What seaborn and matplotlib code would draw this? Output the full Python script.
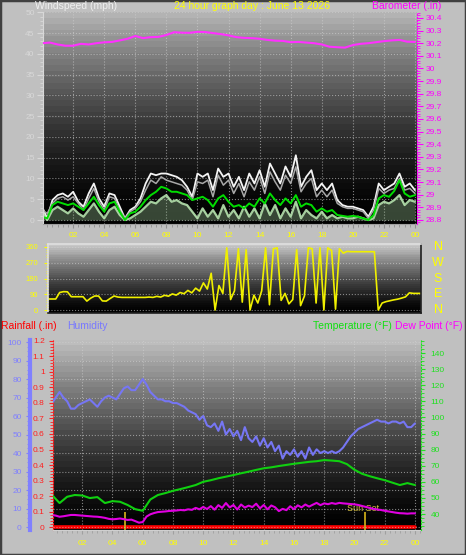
import numpy as np
import matplotlib
matplotlib.use('Agg')
import matplotlib.pyplot as plt
import matplotlib.transforms as mtransforms
import seaborn as sns
from matplotlib.ticker import MultipleLocator, FixedLocator, FuncFormatter
from matplotlib.patches import Rectangle

sns.set_style('white')
plt.rcParams['font.family'] = ['Liberation Sans', 'DejaVu Sans']

# ---- data ----
# wind speeds (mph), one value every 20 minutes, 00:00 .. 24:00
wind_gust = [3.2, 0.4, 4.8, 6.0, 6.4, 5.6,
             6.8, 4.4, 3.2, 6.4, 8.8, 5.2,
             3.2, 6.4, 6.0, 3.2, 0.4, 2.4,
             3.2, 5.2, 8.8, 11.2, 10.8, 11.2,
             11.2, 10.8, 10.4, 9.6, 8.0, 5.6,
             11.2, 10.4, 11.2, 7.2, 12.4, 10.4,
             11.2, 8.0, 10.4, 7.2, 11.2, 8.8,
             12.0, 8.0, 13.6, 11.2, 8.8, 12.9,
             10.4, 15.6, 8.0, 10.4, 12.0, 7.2,
             8.8, 7.2, 8.8, 4.8, 3.6, 3.2,
             3.2, 2.8, 2.4, 0.8, 3.2, 8.8,
             7.2, 8.0, 8.8, 11.2, 8.0, 8.8,
             7.2]
wind_high = [2.4, 1.6, 4.0, 5.2, 5.6, 4.8,
             5.6, 4.0, 2.4, 5.2, 7.6, 4.4,
             2.4, 5.6, 5.2, 2.4, 0.4, 2.0,
             2.8, 4.4, 7.2, 9.6, 8.8, 10.4,
             9.6, 9.2, 8.8, 8.4, 7.2, 4.8,
             9.2, 8.8, 9.6, 5.6, 10.8, 8.4,
             9.6, 6.4, 8.8, 5.6, 9.2, 7.2,
             10.4, 6.4, 11.6, 9.2, 7.2, 10.8,
             8.8, 12.8, 6.8, 8.8, 10.0, 5.6,
             7.2, 5.6, 7.2, 4.0, 3.2, 2.8,
             2.8, 2.4, 2.0, 0.4, 2.4, 7.6,
             6.4, 7.2, 7.6, 10.0, 7.2, 7.6,
             6.4]
wind_avg = [0.8, 0.4, 3.6, 4.4, 4.0, 3.6,
            4.0, 3.2, 2.4, 4.0, 5.6, 3.6,
            2.0, 4.0, 4.4, 2.0, 0.0, 1.6,
            2.0, 3.2, 4.8, 6.0, 6.8, 8.0,
            7.6, 6.8, 6.8, 6.4, 6.0, 4.8,
            5.2, 5.6, 4.8, 3.2, 5.2, 6.0,
            4.4, 3.2, 3.6, 2.8, 4.0, 3.2,
            5.2, 4.0, 6.4, 4.8, 3.6, 5.2,
            4.0, 6.0, 3.2, 4.0, 3.6, 2.0,
            2.8, 2.0, 2.4, 1.2, 1.0, 0.8,
            1.0, 0.8, 0.4, 0.0, 1.2, 5.2,
            6.0, 5.6, 7.0, 9.6, 6.4, 5.6,
            6.0]
wind_low = [2.0, 0.0, 2.4, 3.2, 2.4, 1.6,
            2.8, 1.6, 0.8, 2.4, 4.0, 2.0,
            0.4, 2.4, 3.2, 1.2, 0.0, 0.4,
            1.2, 2.0, 3.2, 4.4, 4.0, 5.2,
            6.0, 4.4, 4.8, 4.0, 3.6, 2.0,
            0.4, 2.8, 0.8, 2.4, 0.4, 3.6,
            0.8, 2.4, 0.4, 3.2, 0.8, 2.8,
            0.4, 4.0, 1.2, 3.6, 0.4, 2.8,
            0.8, 4.4, 0.4, 2.4, 1.2, 0.4,
            2.0, 0.4, 1.2, 0.4, 0.8, 0.4,
            0.4, 0.8, 0.4, 0.0, 0.4, 3.6,
            4.4, 4.0, 4.8, 6.0, 3.6, 4.8,
            4.4]

# barometer (in), every 30 minutes
barometer = [30.200, 30.205, 30.190, 30.180, 30.180, 30.195, 30.190, 30.200,
             30.207, 30.210, 30.222, 30.235, 30.257, 30.240, 30.248, 30.250,
             30.265, 30.287, 30.283, 30.282, 30.290, 30.288, 30.280, 30.272,
             30.262, 30.248, 30.242, 30.240, 30.235, 30.226, 30.220, 30.218,
             30.208, 30.210, 30.205, 30.200, 30.190, 30.172, 30.168, 30.165,
             30.185, 30.195, 30.200, 30.208, 30.216, 30.222, 30.226, 30.212,
             30.210]

# wind direction (deg), every 15 minutes
wind_dir = [63, 63, 63, 100, 105, 104, 76, 76,
            76, 76, 51, 68, 80, 80, 52, 51,
            66, 80, 74, 72, 72, 72, 72, 72,
            72, 72, 74, 72, 78, 74, 84, 79,
            92, 85, 100, 93, 112, 98, 125, 108,
            155, 120, 210, 0, 140, 95, 355, 60,
            110, 350, 45, 345, 0, 85, 40, 110,
            355, 30, 350, 355, 55, 95, 35, 60,
            345, 25, 80, 355, 350, 40, 355, 0,
            355, 340, 5, 350, 325, 335, 333, 333,
            333, 333, 333, 333, 333, 0, 40, 48,
            53, 58, 62, 68, 75, 98, 95, 95,
            95]
dir_labels = ['N', 'W', 'S', 'E', 'N']
dir_values = [360, 270, 180, 90, 0]

# humidity (%) and dew point (F), every 15 minutes
humidity = [67, 70, 73, 70, 68, 64, 64, 66,
            67, 68, 69, 67, 65, 68, 70, 71,
            70, 69, 72, 75, 76, 74, 74, 77,
            80, 77, 73, 71, 69, 69, 68, 68,
            67, 67, 66, 65, 63, 62, 61, 58,
            60, 55, 54, 56, 52, 57, 50, 53,
            49, 52, 47, 54, 48, 46, 49, 44,
            48, 43, 46, 41, 44, 37, 41, 39,
            42, 38, 41, 37, 43, 39, 42, 40,
            41, 40, 41, 40, 41, 43, 46, 49,
            51, 53, 54, 55, 56, 57, 58, 57,
            57, 56, 57, 57, 56, 57, 54, 54,
            56]
dew_point = [39.4, 39.0, 38.3, 38.6, 39.0, 39.4, 39.4, 39.2,
             39.0, 38.8, 38.6, 38.4, 38.3, 38.0, 37.6, 37.0,
             36.7, 36.9, 37.2, 36.8, 36.3, 36.5, 35.6, 34.6,
             35.0, 38.4, 39.8, 40.6, 41.2, 41.4, 41.6, 41.9,
             42.0, 42.2, 42.5, 42.3, 42.9, 42.6, 43.8, 42.9,
             44.4, 43.1, 44.9, 42.7, 45.5, 43.8, 46.8, 44.1,
             45.6, 42.8, 45.9, 44.0, 45.2, 44.3, 46.4, 43.5,
             45.6, 42.9, 45.3, 44.2, 41.8, 43.2, 42.4, 44.8,
             43.0, 45.4, 44.1, 45.9, 44.6, 45.8, 46.9, 45.5,
             46.6, 46.1, 46.8, 46.3, 46.9, 46.6, 46.4, 46.2,
             46.0, 45.6, 45.0, 44.4, 43.8, 43.2, 42.8, 42.5,
             42.0, 41.6, 41.2, 40.8, 40.5, 40.4, 40.2, 40.4,
             40.4]

# temperature (F), every 30 minutes
temperature = [51.8, 46.8, 50.7, 51.8, 51.5, 49.9, 50.5, 46.8,
               48.0, 47.6, 45.6, 43.0, 42.0, 49.0, 51.8, 53.0,
               54.4, 55.5, 56.7, 58.0, 60.0, 61.0, 62.2, 63.2,
               64.2, 65.3, 66.3, 67.4, 68.4, 69.0, 69.8, 70.5,
               71.2, 71.8, 72.4, 72.8, 73.5, 73.2, 72.8, 71.0,
               67.5, 65.0, 63.5, 62.2, 61.0, 59.5, 58.0, 59.2,
               58.0]

# rainfall (in), hourly
rainfall = [0.0, 0.0, 0.0, 0.0, 0.0, 0.0, 0.0, 0.0, 0.0, 0.0, 0.0, 0.0, 0.0,
            0.0, 0.0, 0.0, 0.0, 0.0, 0.0, 0.0, 0.0, 0.0, 0.0, 0.0, 0.0]

sun_rise = 4.8
sun_set = 20.7

hour_ticks = [2, 4, 6, 8, 10, 12, 14, 16, 18, 20, 22, 24]
hour_labels = ['02', '04', '06', '08', '10', '12', '14', '16', '18', '20', '22', '00']

t20 = np.arange(len(wind_gust)) / 3
t30 = np.arange(len(barometer)) / 2
t15 = np.arange(len(wind_dir)) / 4
t60 = np.arange(len(rainfall))

# ---- figure ----
W, H = 466, 555
fig = plt.figure(figsize=(W / 100, H / 100), dpi=100)
fig.patch.set_facecolor('#c0c0c0')
fig.patches.append(Rectangle((0, 0), 1, 1, transform=fig.transFigure, fill=False,
                             edgecolor='#404040', lw=2.5))


def box(l, t, r, b):
    return [l / W, 1 - b / H, (r - l) / W, (b - t) / H]


def backdrop(ax, top, gamma):
    rows = np.linspace(0, 1, 36)[:, None]
    shade = top * (1 - rows) ** gamma
    ax.imshow(shade, cmap='gray', vmin=0, vmax=1, extent=(0, 1, 0, 1),
              transform=ax.transAxes, aspect='auto', zorder=0,
              interpolation='nearest')


def fmt_g(v, pos):
    return '%g' % round(v, 2)


YEL = '#ffff00'
GRID = dict(color='#d0d0d0', linestyle=':', linewidth=0.8, alpha=0.6)

# ===== panel 1: wind speed + barometer =====
ax1 = fig.add_axes(box(43, 12, 417, 224))
backdrop(ax1, 0.70, 1.55)
sns.lineplot(x=t20, y=wind_gust, ax=ax1, color='#f4f4f4', lw=1.3, legend=False)
sns.lineplot(x=t20, y=wind_high, ax=ax1, color='#a8a8a8', lw=1.1, legend=False)
ax1.fill_between(t20, wind_low, color='#b8eab0', alpha=0.3, lw=0, zorder=2)
sns.lineplot(x=t20, y=wind_low, ax=ax1, color='#c0f0b8', lw=1.6, alpha=0.85, legend=False)
sns.lineplot(x=t20, y=wind_avg, ax=ax1, color='#00dd00', lw=1.4, legend=False)
ax1.set_xlim(0.06, 24.13)
ax1.set_ylim(-0.96, 50.1)
ax1.yaxis.set_major_locator(MultipleLocator(5))
ax1.yaxis.set_minor_locator(MultipleLocator(1))
ax1.xaxis.set_major_locator(FixedLocator(hour_ticks))
ax1.xaxis.set_minor_locator(FixedLocator(list(np.arange(1, 73) / 3)))
ax1.set_xticklabels(hour_labels)
ax1.tick_params(axis='y', which='both', colors='#d8d8d8', labelsize=6, pad=2, direction='out', left=True)
ax1.tick_params(axis='y', which='major', length=4)
ax1.tick_params(axis='y', which='minor', length=2)
ax1.tick_params(axis='x', which='both', colors='#909090', labelcolor=YEL, labelsize=6, pad=3, direction='out', bottom=True)
ax1.tick_params(axis='x', which='major', length=3)
ax1.tick_params(axis='x', which='minor', length=2)
ax1.grid(True, which='major', **GRID)
ax1.set_xlabel('')
ax1.set_ylabel('')
for s in ['top', 'right']:
    ax1.spines[s].set_visible(False)
ax1.spines['left'].set_color('#d8d8d8')
ax1.spines['bottom'].set_color('#a0a0a0')

ax1b = ax1.twinx()
sns.lineplot(x=t30, y=barometer, ax=ax1b, color='#ff30ff', lw=1.5, legend=False)
ax1b.set_ylim(28.768, 30.447)
ax1b.yaxis.set_major_locator(FixedLocator(list(np.round(np.arange(28.8, 30.45, 0.1), 1))))
ax1b.yaxis.set_minor_locator(MultipleLocator(0.02))
ax1b.yaxis.set_major_formatter(FuncFormatter(fmt_g))
ax1b.tick_params(axis='y', which='both', colors='#ff00ff', labelsize=6, pad=2, direction='out')
ax1b.tick_params(axis='y', which='major', length=4)
ax1b.tick_params(axis='y', which='minor', length=2)
ax1b.set_ylabel('')
for s in ['top', 'left', 'bottom']:
    ax1b.spines[s].set_visible(False)
ax1b.spines['right'].set_color('#ff00ff')
ax1b.spines['right'].set_linestyle(':')

fig.text(35 / W, 1 - 6 / H, 'Windspeed (mph)', color='#f0f0f0', fontsize=7.5, ha='left', va='center')
fig.text(252 / W, 1 - 6 / H, '24 hour graph day : June 13 2026', color=YEL, fontsize=7.5, ha='center', va='center')
fig.text(372 / W, 1 - 6 / H, 'Barometer (.in)', color='#ff00ff', fontsize=7.5, ha='left', va='center')

# ===== panel 2: wind direction =====
ax2 = fig.add_axes(box(48, 244, 421, 313))
backdrop(ax2, 0.78, 1.35)
sns.lineplot(x=t15, y=wind_dir, ax=ax2, color='#f0f000', lw=1.2, legend=False)
ax2.set_xlim(0, 24)
ax2.set_ylim(-17, 377)
ax2.yaxis.set_major_locator(FixedLocator([0, 90, 180, 270, 360]))
ax2.yaxis.set_minor_locator(MultipleLocator(15))
ax2.tick_params(axis='y', which='both', colors=YEL, labelsize=5.5, pad=4, direction='out', left=True)
ax2.tick_params(axis='y', which='major', length=3)
ax2.tick_params(axis='y', which='minor', length=1.5)
ax2.set_xticks([])
ax2.grid(True, axis='y', **GRID)
ax2.set_xlabel('')
ax2.set_ylabel('')
for s in ax2.spines.values():
    s.set_color('#e0e0e0')
    s.set_linewidth(1.2)
ax2.spines['bottom'].set_color('#202020')
ax2.spines['right'].set_color('#202020')
tr = mtransforms.blended_transform_factory(ax2.transAxes, ax2.transData)
for lab, v in zip(dir_labels, dir_values):
    ax2.text(1.0456, v, lab, transform=tr, color=YEL, fontsize=9, ha='center', va='center')

# ===== panel 3: rain / humidity / temperature / dew point =====
ax3 = fig.add_axes(box(53, 340, 421, 530))
backdrop(ax3, 0.74, 1.4)
sns.lineplot(x=t60, y=rainfall, ax=ax3, color='#ff0000', lw=2.6, legend=False)
ax3.vlines([sun_rise, sun_set], -0.02, 0.1, color='#c8a818', lw=1.3, zorder=3)
ax3.text(sun_set - 0.1, 0.122, 'Sun Set', color='#d8c040', fontsize=6.5, ha='center', va='center', zorder=4)
ax3.set_xlim(0.066, 24.4)
ax3.set_ylim(-0.019, 1.206)
ax3.yaxis.set_major_locator(FixedLocator(list(np.round(np.arange(0, 1.25, 0.1), 1))))
ax3.yaxis.set_minor_locator(MultipleLocator(0.02))
ax3.yaxis.set_major_formatter(FuncFormatter(fmt_g))
ax3.xaxis.set_major_locator(FixedLocator(hour_ticks))
ax3.xaxis.set_minor_locator(FixedLocator(list(np.arange(1, 74) / 3)))
ax3.set_xticklabels(hour_labels)
ax3.tick_params(axis='y', which='both', colors='#ff2020', labelsize=6, pad=3, direction='out', left=True)
ax3.tick_params(axis='y', which='major', length=3)
ax3.tick_params(axis='y', which='minor', length=2)
ax3.tick_params(axis='x', which='both', colors='#a0a0a0', labelcolor=YEL, labelsize=6, pad=4, direction='out', bottom=True)
ax3.tick_params(axis='x', which='major', length=3)
ax3.tick_params(axis='x', which='minor', length=2)
ax3.grid(True, axis='x', **GRID)
ax3.set_xlabel('')
ax3.set_ylabel('')
for s in ['top', 'right']:
    ax3.spines[s].set_visible(False)
ax3.spines['left'].set_color('#ff2020')
ax3.spines['left'].set_linestyle(':')
ax3.spines['bottom'].set_color('#d0d0d0')

ax3h = ax3.twinx()
sns.lineplot(x=t15, y=humidity, ax=ax3h, color='#7676f4', lw=1.5, legend=False)
ax3h.set_ylim(-1.6, 101.1)
ax3h.yaxis.tick_left()
ax3h.spines['left'].set_visible(True)
ax3h.spines['left'].set_position(('outward', 16.5))
ax3h.spines['left'].set_color('#8080ff')
ax3h.spines['left'].set_linewidth(3)
for s in ['top', 'right', 'bottom']:
    ax3h.spines[s].set_visible(False)
ax3h.yaxis.set_major_locator(MultipleLocator(10))
ax3h.yaxis.set_minor_locator(MultipleLocator(2.5))
ax3h.tick_params(axis='y', which='both', colors='#8080ff', labelsize=6, pad=3, direction='out')
ax3h.tick_params(axis='y', which='major', length=3)
ax3h.tick_params(axis='y', which='minor', length=2)
ax3h.grid(True, axis='y', **GRID)
ax3h.set_ylabel('')

ax3t = ax3.twinx()
sns.lineplot(x=t30, y=temperature, ax=ax3t, color='#10d010', lw=1.5, legend=False)
sns.lineplot(x=t15, y=dew_point, ax=ax3t, color='#e000e0', lw=1.5, legend=False)
ax3t.set_ylim(30.06, 148.1)
ax3t.yaxis.set_major_locator(FixedLocator(list(range(40, 150, 10))))
ax3t.yaxis.set_minor_locator(MultipleLocator(2.5))
ax3t.tick_params(axis='y', which='both', colors='#20e020', labelsize=6, pad=4, direction='out')
ax3t.tick_params(axis='y', which='major', length=3)
ax3t.tick_params(axis='y', which='minor', length=2)
for s in ['top', 'left', 'bottom']:
    ax3t.spines[s].set_visible(False)
ax3t.spines['right'].set_color('#20e020')
ax3t.spines['right'].set_linestyle(':')
ax3t.set_ylabel('')

fig.text(1 / W, 1 - 326 / H, 'Rainfall (.in)', color='#ff0000', fontsize=7.5, ha='left', va='center')
fig.text(67 / W, 1 - 326 / H, 'Humidity', color='#7878ff', fontsize=7.5, ha='left', va='center')
fig.text(313 / W, 1 - 326 / H, 'Temperature (°F)', color='#10e010', fontsize=7.5, ha='left', va='center')
fig.text(395 / W, 1 - 326 / H, 'Dew Point (°F)', color='#ff00ff', fontsize=7.5, ha='left', va='center')

fig.savefig('out.png', dpi=100, facecolor=fig.get_facecolor())
